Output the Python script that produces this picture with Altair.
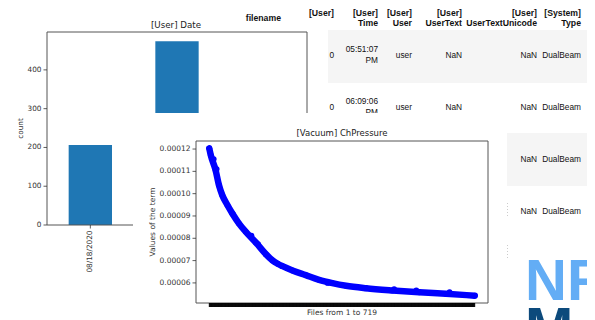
import altair as alt
import pandas as pd

# ---------------- data ----------------
dates = ["08/18/2020", "08/19/2020", "08/20/2020"]
date_counts = [206, 474, 39]
count_ticks = [0, 100, 200, 300, 400]

file_index = [0, 4, 17, 26, 35, 49, 62, 80, 99, 126, 153, 171, 185, 198, 225,
              261, 297, 333, 370, 424, 496, 568, 640, 718]
ch_pressure = [1.203e-4, 1.173e-4, 1.106e-4, 1.039e-4, 0.994e-4, 0.949e-4,
               0.912e-4, 0.867e-4, 0.829e-4, 0.781e-4, 0.729e-4, 0.701e-4,
               0.686e-4, 0.675e-4, 0.656e-4, 0.635e-4, 0.614e-4, 0.599e-4,
               0.587e-4, 0.576e-4, 0.566e-4, 0.558e-4, 0.551e-4, 0.543e-4]
outlier_index = [12, 20, 64, 114, 132, 320, 500, 560, 650]
outlier_pressure = [1.155e-4, 1.110e-4, 0.908e-4, 0.812e-4, 0.774e-4,
                    0.600e-4, 0.572e-4, 0.566e-4, 0.558e-4]
pressure_ticks = [6e-5, 7e-5, 8e-5, 9e-5, 1.0e-4, 1.1e-4, 1.2e-4]
n_files = 719

header_top = ["[User]", "[User]", "[User]", "[User]", "[User]", "[System]"]
header_bottom = ["", "Time", "User", "UserText", "UserTextUnicode", "Type"]
row1_a = ["", "05:51:07", "", "", "", ""]
row1_m = ["0", "", "user", "NaN", "NaN", "DualBeam"]
row1_b = ["", "PM", "", "", "", ""]
row2_a = ["", "06:09:06", "", "", "", ""]
row2_m = ["0", "", "user", "NaN", "NaN", "DualBeam"]
row2_b = ["", "PM", "", "", "", ""]
row3_m = ["", "", "", "", "NaN", "DualBeam"]
row4_m = ["", "", "", "", "NaN", "DualBeam"]

# ---------------- layout ----------------
M = 8
W, H = 579, 312
def X(v): return v - M
def Y(v): return v - M

PLT_FONT = "DejaVu Sans"
TAB_FONT = "Liberation Sans"
INK = "#333333"
one = pd.DataFrame({"k": [0]})

def box(x0, x1, y0, y1, color):
    return alt.Chart(one).mark_rect(color=color).encode(
        x=alt.value(X(x0)), x2=alt.value(X(x1)),
        y=alt.value(Y(y0)), y2=alt.value(Y(y1)))

def vdots(x, y0, y1):
    return alt.Chart(one).mark_rule(color="#9a9a9a", strokeWidth=1, strokeDash=[1, 2]).encode(
        x=alt.value(X(x)), y=alt.value(Y(y0)), y2=alt.value(Y(y1)))

def label(txt, x, y, size, color="#222222", font=PLT_FONT, weight="normal",
          align="center", baseline="middle", angle=0):
    return alt.Chart(one).mark_text(
        text=txt, font=font, fontSize=size, fontWeight=weight, color=color,
        align=align, baseline=baseline, angle=angle
    ).encode(x=alt.value(X(x)), y=alt.value(Y(y)))

# ---------------- table (pandas output) ----------------
col_keys = [-1, 0, 1, 2, 3, 4, 5]
col_right = [281, 334, 378, 412, 462, 537, 581]
slot_keys = list(range(11))
slot_y = [12.5, 17.5, 23, 50, 56, 61, 102, 108, 113, 160, 212]

head_recs = [(-1, 1, "filename")]
for c in range(6):
    head_recs.append((c, 0, header_top[c]))
    if header_bottom[c]:
        head_recs.append((c, 2, header_bottom[c]))
cell_recs = []
for slot, row in [(3, row1_a), (4, row1_m), (5, row1_b), (6, row2_a),
                  (7, row2_m), (8, row2_b), (9, row3_m), (10, row4_m)]:
    for c, t in enumerate(row):
        if t:
            cell_recs.append((c, slot, t))

head_df = pd.DataFrame(head_recs, columns=["col", "slot", "text"])
cell_df = pd.DataFrame(cell_recs, columns=["col", "slot", "text"])
tx = alt.Scale(domain=col_keys, range=[X(v) for v in col_right], zero=False, nice=False)
ty = alt.Scale(domain=slot_keys, range=[Y(v) for v in slot_y], zero=False, nice=False)

def table_text(df, weight, size):
    return alt.Chart(df).mark_text(
        align="right", baseline="middle", font=TAB_FONT, fontSize=size,
        fontWeight=weight, color="#111111"
    ).encode(
        x=alt.X("col:Q", scale=tx, axis=None),
        y=alt.Y("slot:Q", scale=ty, axis=None),
        text="text:N")

table_layer = alt.layer(table_text(head_df, "bold", 8.7), table_text(cell_df, "normal", 8.3))
bands = alt.layer(box(328, 600, 30, 83, "#f5f5f5"), box(328, 600, 133, 186, "#f5f5f5"),
                  vdots(507, 203, 216), vdots(507, 245, 258))

# ---------------- bar chart: [User] Date ----------------
bar_df = pd.DataFrame({"date": dates, "count": date_counts, "pos": list(range(len(dates)))})
ytop = max(date_counts) * 1.05
bx = alt.Scale(domain=[-0.5, len(dates) - 0.5], range=[X(47), X(307)], zero=False, nice=False, padding=0)
by = alt.Scale(domain=[0, ytop], range=[Y(225), Y(32)], zero=False, nice=False, padding=0)

def bxq(field, **kw):
    return alt.X(field, scale=bx, axis=None, **kw)
def byq(field, **kw):
    return alt.Y(field, scale=by, axis=None, **kw)

bars = alt.Chart(bar_df).transform_calculate(
    left="datum.pos - 0.25", right="datum.pos + 0.25"
).mark_rect(color="#1f77b4").encode(
    x=bxq("left:Q"), x2="right:Q", y=byq("count:Q"), y2=alt.Y2(datum=0))
bar_frame = alt.Chart(one).mark_rect(fillOpacity=0, stroke="#555555", strokeWidth=1).encode(
    x=alt.X(datum=-0.5, scale=bx, axis=None), x2=alt.X2(datum=len(dates) - 0.5),
    y=alt.Y(datum=0, scale=by, axis=None), y2=alt.Y2(datum=ytop))
cticks = pd.DataFrame({"v": count_ticks})
bar_yticks = alt.Chart(cticks).mark_rule(color=INK, strokeWidth=0.8).encode(
    y=byq("v:Q"), x=alt.value(X(47) - 3.5), x2=alt.value(X(47)))
bar_ylabels = alt.Chart(cticks).mark_text(
    align="right", baseline="middle", font=PLT_FONT, fontSize=7.3, color=INK
).encode(y=byq("v:Q"), x=alt.value(X(47) - 5.5), text=alt.Text("v:Q", format="d"))
bar_xticks = alt.Chart(bar_df).mark_rule(color=INK, strokeWidth=0.8).encode(
    x=bxq("pos:Q"), y=alt.value(Y(225)), y2=alt.value(Y(228.5)))
bar_xlabels = alt.Chart(bar_df).mark_text(
    align="right", baseline="middle", angle=270, font=PLT_FONT, fontSize=7.3, color=INK
).encode(x=bxq("pos:Q"), y=alt.value(Y(230.5)), text="date:N")
bar_layer = alt.layer(bars, bar_frame, bar_yticks, bar_ylabels, bar_xticks, bar_xlabels)
bar_texts = alt.layer(
    label("[User] Date", 176, 25, 8.7),
    label("count", 21, 128.5, 7.3, color=INK, angle=270),
)

# ---------------- scatter: [Vacuum] ChPressure ----------------
sc_df = pd.DataFrame({"idx": file_index, "val": ch_pressure})
out_df = pd.DataFrame({"idx": outlier_index, "val": outlier_pressure})
xm = 0.05 * (n_files - 1)
sx = alt.Scale(domain=[-xm, n_files - 1 + xm], range=[X(196), X(488)], zero=False, nice=False, padding=0)
vmin, vmax = min(ch_pressure), max(ch_pressure)
ym = 0.05 * (vmax - vmin)
sy = alt.Scale(domain=[vmin - ym, vmax + ym], range=[Y(303), Y(141)], zero=False, nice=False, padding=0)

def sxq(field):
    return alt.X(field, scale=sx, axis=None)
def syq(field):
    return alt.Y(field, scale=sy, axis=None)

sc_frame = alt.Chart(one).mark_rect(fillOpacity=0, stroke="#555555", strokeWidth=1).encode(
    x=alt.X(datum=-xm, scale=sx, axis=None), x2=alt.X2(datum=n_files - 1 + xm),
    y=alt.Y(datum=vmin - ym, scale=sy, axis=None), y2=alt.Y2(datum=vmax + ym))
sc_line = alt.Chart(sc_df).mark_line(
    color="#0000ff", strokeWidth=6.5, strokeCap="round", strokeJoin="round",
    interpolate="monotone"
).encode(x=sxq("idx:Q"), y=syq("val:Q"))
sc_pts = alt.Chart(sc_df).mark_circle(color="#0000ff", size=34, opacity=1).encode(
    x=sxq("idx:Q"), y=syq("val:Q"))
sc_out = alt.Chart(out_df).mark_circle(color="#0000ff", size=34, opacity=1).encode(
    x=sxq("idx:Q"), y=syq("val:Q"))
pticks = pd.DataFrame({"v": pressure_ticks})
sc_yticks = alt.Chart(pticks).mark_rule(color=INK, strokeWidth=0.8).encode(
    y=syq("v:Q"), x=alt.value(X(196) - 3.5), x2=alt.value(X(196)))
sc_ylabels = alt.Chart(pticks).mark_text(
    align="right", baseline="middle", font=PLT_FONT, fontSize=7.5, color=INK
).encode(y=syq("v:Q"), x=alt.value(X(196) - 5.5), text=alt.Text("v:Q", format=".5f"))
fticks = pd.DataFrame({"i": list(range(n_files))})
sc_xticks = alt.Chart(fticks).mark_rule(color="#000000", strokeWidth=0.8).encode(
    x=sxq("i:Q"), y=alt.value(Y(303)), y2=alt.value(Y(307)))
scatter_layer = alt.layer(sc_frame, sc_line, sc_pts, sc_out, sc_yticks, sc_ylabels, sc_xticks)
sc_cover = box(133, 507, 113, 330, "#ffffff")
sc_texts = alt.layer(
    label("[Vacuum] ChPressure", 342, 133, 8.5),
    label("Values of the term", 153, 222, 7.5, color=INK, angle=270),
    label("Files from 1 to 719", 342, 313, 7.5, color=INK),
)

# ---------------- logo fragment ----------------
logo = alt.layer(
    label("NR", 525, 300, 58, color="#63adf5", font=TAB_FONT, weight="bold",
          align="left", baseline="alphabetic"),
    label("M", 525, 348, 58, color="#0c4a7c", font=TAB_FONT, weight="bold",
          align="left", baseline="alphabetic"),
)

chart = alt.layer(
    bands, table_layer, bar_layer, bar_texts, sc_cover, scatter_layer, sc_texts, logo
).resolve_scale(x="independent", y="independent").properties(
    width=W, height=H, autosize=alt.AutoSizeParams(type="none"), padding=0
).configure_view(strokeWidth=0)

chart.save("out.html", embed_options={"renderer": "svg", "actions": False})
